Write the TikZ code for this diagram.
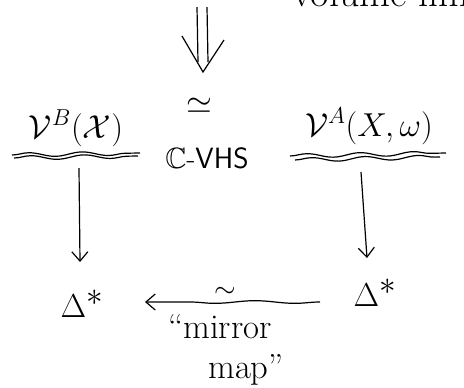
\documentclass[tikz,border=0pt]{standalone}
\usepackage{amssymb}
\usetikzlibrary{arrows.meta,decorations.pathmorphing}
\begin{document}
\begin{tikzpicture}[x=0.75pt,y=-0.75pt,
  ink/.style={draw=black,line width=0.9pt},
  hand/.style={->,ink,-{Straight Barb[length=7pt,width=12pt]}},
  wavy/.style={ink,decorate,decoration={snake,amplitude=1.5pt,segment length=40pt}},
  mid/.style={font=\fontsize{22}{26}\selectfont,inner sep=0pt}]
\useasboundingbox (0,0) rectangle (464,387);
\fill[white] (0,0) rectangle (464,387);
% clipped text at top right
\begin{scope}
\clip (0,0) rectangle (464,387);
\node[anchor=base west,font=\fontsize{30}{34}\selectfont,inner sep=0pt] (top) at (292,6) {volume lim};
\end{scope}
% double arrow
\coordinate (dbot) at (203,72);
\draw[ink] (197,7) -- (198,62);
\draw[ink] (207,7) -- (208,62);
\draw[ink] (182,36) -- (dbot) -- (224,40);
% top row
\node[font=\fontsize{38}{44}\selectfont,inner sep=0pt,anchor=base] (VB) at (76,138) {$\mathcal{V}^{\scriptscriptstyle B}(\mathcal{X})$};
\node[font=\fontsize{30}{34}\selectfont,inner sep=0pt] (sim) at (199,106) {$\simeq$};
\node[mid] (vhs) at (207,158) {$\mathbb{C}$-\textsf{VHS}};
\node[font=\fontsize{36}{44}\selectfont,inner sep=0pt,anchor=base] (VA) at (369,136) {$\mathcal{V}^{\scriptscriptstyle A}(X,\omega)$};
% underlines
\draw[wavy] (12,155) -- (140,153);
\draw[wavy] (14,158) -- (138,156);
\draw[wavy] (290,156) -- (446,153);
\draw[wavy] (295,160) -- (440,157);
% bottom row
\node[font=\fontsize{48}{54}\selectfont,inner sep=0pt] (DL) at (82,304) {$\Delta^{*}$};
\node[font=\fontsize{44}{50}\selectfont,inner sep=0pt] (DR) at (375,293) {$\Delta^{*}$};
% vertical arrows
\coordinate (vbs) at (79,168);
\coordinate (vas) at (361,172);
\draw[hand] (vbs) -- (80,262);
\draw[hand] (vas) -- (367,258);
% horizontal arrow
\coordinate (hs) at (320,302);
\coordinate (he) at (145,302);
\draw[hand,decorate,decoration={snake,amplitude=1pt,segment length=60pt,post length=8pt}] (hs) -- (he);
\node[font=\fontsize{22}{26}\selectfont,inner sep=0pt] (htil) at (225,292) {$\sim$};
\node[font=\fontsize{26}{30}\selectfont,inner sep=0pt,align=center] (mm) at (220,350) {``mirror\\ \hspace*{1.5em}map''};
\end{tikzpicture}
\end{document}
